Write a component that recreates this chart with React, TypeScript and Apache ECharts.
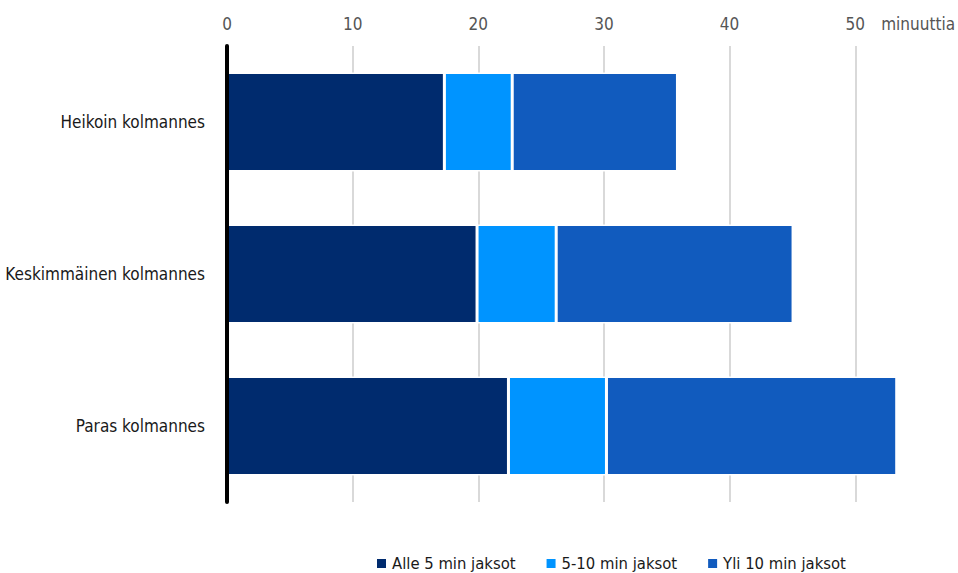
import React, { useEffect, useRef } from "react";
import * as echarts from "echarts";

const categories = ["Heikoin kolmannes", "Keskimmäinen kolmannes", "Paras kolmannes"];
const seriesNames = ["Alle 5 min jaksot", "5-10 min jaksot", "Yli 10 min jaksot"];
const alle5 = [17.3, 19.9, 22.4];
const min5to10 = [5.4, 6.3, 7.8];
const yli10 = [13.15, 18.85, 23.1];
const colors = ["#002B6E", "#0094FF", "#115BBE"];
const axisMax = 55;
const unitLabel = "minuuttia";

const FONT = "'DejaVu Sans Condensed', 'DejaVu Sans', sans-serif";

export default function App() {
  const ref = useRef<HTMLDivElement>(null);
  useEffect(() => {
    document.body.style.margin = "0";
    const st = document.createElement("style");
    st.textContent = "#root svg text { font-stretch: condensed !important; }";
    document.head.appendChild(st);
    if (!ref.current) return;
    const chart = echarts.init(ref.current, undefined, { renderer: "svg" });
    const data = [alle5, min5to10, yli10];
    chart.setOption({
      animation: false,
      textStyle: { fontFamily: FONT },
      grid: { left: 227, right: 39, top: 46, bottom: 71, containLabel: false },
      legend: {
        top: 550,
        left: 370,
        itemWidth: 11,
        itemHeight: 11,
        itemGap: 29,
        icon: "rect",
        textStyle: { fontFamily: FONT, fontSize: 16.5, color: "#1a1a1a" },
        data: seriesNames,
      },
      xAxis: {
        type: "value",
        position: "top",
        min: 0,
        max: axisMax,
        interval: 10,
        axisLine: { show: false },
        axisTick: { show: false },
        axisLabel: {
          fontFamily: FONT,
          fontSize: 17,
          color: "#555",
          margin: 14,
          formatter: (v: number) => (v === axisMax ? unitLabel : String(v)),
        },
        splitLine: { show: true, showMaxLine: false, lineStyle: { color: "#d9d9d9", width: 2 } },
      },
      yAxis: {
        type: "category",
        inverse: true,
        z: 5,
        data: categories,
        axisLine: { show: true, lineStyle: { color: "#000", width: 4 } },
        axisTick: { show: false },
        axisLabel: { fontFamily: FONT, fontSize: 17, color: "#1a1a1a", margin: 22 },
      },
      series: seriesNames.map((name, i) => ({
        name,
        type: "bar",
        stack: "total",
        barCategoryGap: "35%",
        data: data[i],
        itemStyle: { color: colors[i], borderColor: "#fff", borderWidth: 1.5 },
      })),
    });
    return () => {
      chart.dispose();
      st.remove();
    };
  }, []);
  return <div ref={ref} style={{ width: 958, height: 573 }} />;
}
